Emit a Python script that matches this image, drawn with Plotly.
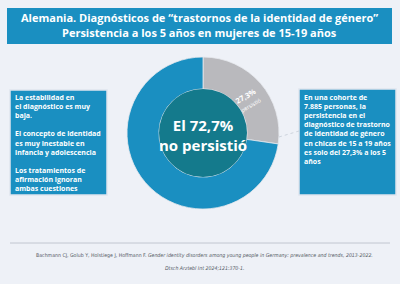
import math
import plotly.graph_objects as go

# ---- data ----
labels = ["persistió", "no persistió"]
values = [27.3, 72.7]
slice_label = "<b>27,3%</b><br><span style='font-size:5.5px'>persistió</span>"
title_lines = ["Alemania. Diagnósticos de “trastornos de la identidad de género”",
               "Persistencia a los 5 años en mujeres de 15-19 años"]
center_text = "El 72,7%<br>no persistió"
left_text = ("La estabilidad en<br>el diagnóstico es muy<br>baja.<br><br>"
             "El concepto de identidad<br>es muy inestable en<br>infancia y adolescencia<br><br>"
             "Los tratamientos de<br>afirmación ignoran<br>ambas cuestiones")
right_text = ("En una cohorte de<br>7.885 personas, la<br>persistencia en el<br>"
              "diagnóstico de trastorno<br>de identidad de género<br>en chicas de 15 a 19 años<br>"
              "es solo del 27,3% a los 5<br>años")
cite1 = ("Bachmann CJ, Golub Y, Holstiege J, Hoffmann F. <i>Gender identity disorders among young "
         "people in Germany: prevalence and trends, 2013-2022.</i>")
cite2 = "<i>Dtsch Arztebl Int 2024;121:370-1.</i>"

W, H = 400, 284
def px(x): return x / W
def py(y): return 1 - y / H

BG = "#eef1f7"
BLUE = "#1a8fc1"
GRAY = "#b9b9bd"
TEAL = "#147a8c"

cx, cy, R = 203, 133, 76

fig = go.Figure()
fig.add_trace(go.Pie(
    labels=labels, values=values, sort=False, direction="clockwise", rotation=0,
    hole=0.58, marker=dict(colors=[GRAY, BLUE], line=dict(color="#e6e9ee", width=0.8)),
    textinfo="none",
    domain=dict(x=[px(cx - R), px(cx + R)], y=[py(cy + R), py(cy - R)]),
    showlegend=False, hoverinfo="label+value",
))

shapes = []
shapes.append(dict(type="rect", xref="paper", yref="paper", x0=px(7), x1=px(392), y0=py(44), y1=py(8),
                   fillcolor=BLUE, line=dict(width=0), layer="below"))
shapes.append(dict(type="rect", xref="paper", yref="paper", x0=px(10), x1=px(107), y0=py(195), y1=py(90),
                   fillcolor=BLUE, line=dict(color="#dfe5ee", width=1.5), layer="below"))
shapes.append(dict(type="rect", xref="paper", yref="paper", x0=px(299), x1=px(396), y0=py(195), y1=py(89),
                   fillcolor=BLUE, line=dict(color="#dfe5ee", width=1.5), layer="below"))
shapes.append(dict(type="line", xref="paper", yref="paper", x0=px(279), x1=px(299), y0=py(137), y1=py(131),
                   line=dict(color="#c4ccd6", width=0.8, dash="dot")))
hr = 44
shapes.append(dict(type="circle", xref="paper", yref="paper", x0=px(cx - hr), x1=px(cx + hr),
                   y0=py(cy + hr), y1=py(cy - hr), fillcolor=TEAL, line=dict(width=0)))
shapes.append(dict(type="line", xref="paper", yref="paper", x0=px(10), x1=px(390), y0=py(243), y1=py(243),
                   line=dict(color="#b5bcc6", width=0.8)))

ann = []
# slice label placed from the data (mid-angle of first slice)
mid = math.radians(values[0] / sum(values) * 360 / 2 + 5)
lr = 0.74 * R
ann.append(dict(text=slice_label, x=px(cx + lr * math.sin(mid)), y=py(cy - lr * math.cos(mid)),
                xref="paper", yref="paper", showarrow=False, textangle=-30,
                xanchor="center", yanchor="middle",
                font=dict(family="Open Sans", size=7.5, color="white")))
for i, t in enumerate(title_lines):
    ann.append(dict(text=f"<b>{t}</b>", x=px(199), y=py(17 + 16 * i), xref="paper", yref="paper",
                    showarrow=False, xanchor="center", yanchor="middle",
                    font=dict(family="Open Sans", size=11, color="white")))
ann.append(dict(text=f"<b>{center_text}</b>", x=px(cx), y=py(cy + 2), xref="paper", yref="paper",
                showarrow=False, xanchor="center", yanchor="middle",
                font=dict(family="Open Sans", size=15, color="white")))
ann.append(dict(text=f"<b>{left_text}</b>", x=px(13), y=py(91), xref="paper", yref="paper",
                showarrow=False, xanchor="left", yanchor="top", align="left",
                font=dict(family="Open Sans", size=7, color="white")))
ann.append(dict(text=f"<b>{right_text}</b>", x=px(302), y=py(91), xref="paper", yref="paper",
                showarrow=False, xanchor="left", yanchor="top", align="left",
                font=dict(family="Open Sans", size=7, color="white")))
for i, t in enumerate([cite1, cite2]):
    ann.append(dict(text=t, x=px(205), y=py(255 + 13 * i), xref="paper", yref="paper",
                    showarrow=False, xanchor="center", yanchor="middle",
                    font=dict(family="Liberation Sans Narrow, DejaVu Sans Condensed, sans-serif",
                              size=5.2, color="#555b66")))

fig.update_layout(width=W, height=H, margin=dict(l=0, r=0, t=0, b=0),
                  paper_bgcolor=BG, plot_bgcolor=BG, shapes=shapes, annotations=ann)
fig.write_html("out.html")
